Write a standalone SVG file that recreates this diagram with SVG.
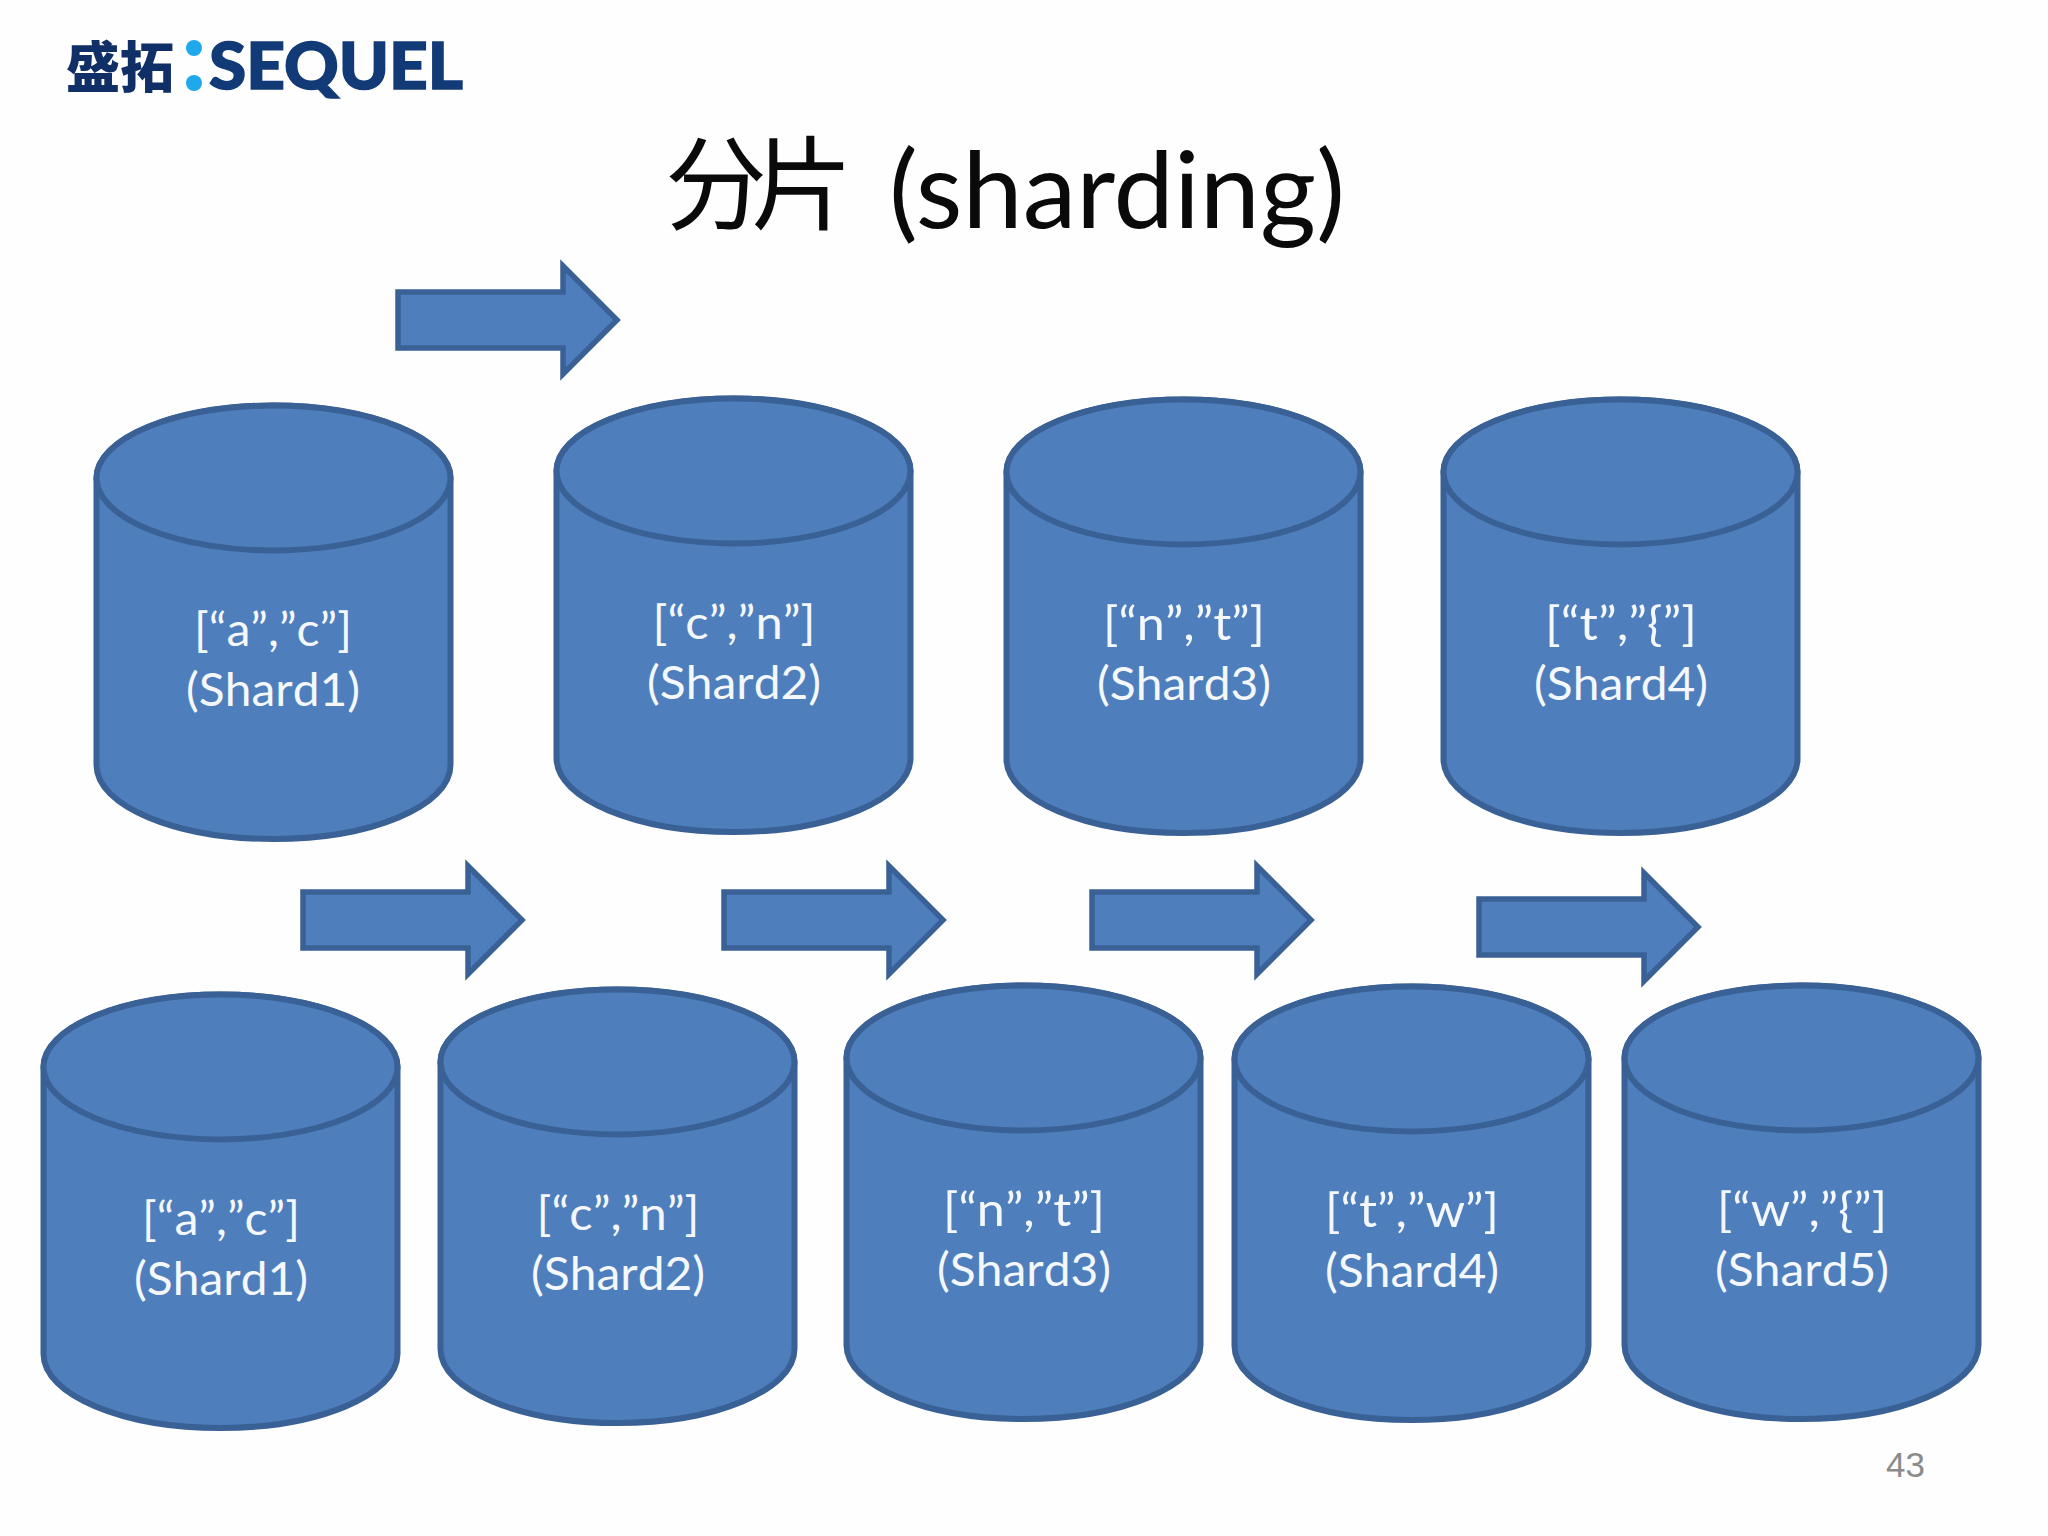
<svg xmlns="http://www.w3.org/2000/svg" width="2048" height="1536" viewBox="0 0 2048 1536">
<style>
.b{fill:#4f7ebd;stroke:#3a6195;stroke-width:6;stroke-linejoin:miter}
.a{fill:#4f7ebd;stroke:#3a6195;stroke-width:5.500;stroke-linejoin:miter}
.t{font-family:"Lato","Noto Sans CJK SC",sans-serif;font-size:47px;fill:#f4f8fc;text-anchor:middle;font-kerning:none}
.h{font-family:"Lato","Noto Sans CJK SC",sans-serif;fill:#0a0a0a}
</style>
<defs>
<g id="cyl">
<path class="b" d="M2.500 75C2.500 35 82 2.500 179.500 2.500S356.500 35 356.500 75V362C356.500 403 277 436 179.500 436S2.500 403 2.500 362Z"/>
<ellipse class="b" cx="179.500" cy="75" rx="177" ry="72.500"/>
</g>
<polygon id="arr" class="a" points="0,-28 165,-28 165,-54 219,0 165,54 165,28 0,28"/>
</defs>
<rect width="2048" height="1536" fill="#fefefe"/>
<g id="logo">
<text x="66" y="87" font-family="'Noto Sans CJK SC',sans-serif" font-weight="900" font-size="55" fill="#0f2f66" textLength="108" lengthAdjust="spacingAndGlyphs">盛拓</text>
<circle cx="194" cy="48" r="8" fill="#1fa9ea"/>
<circle cx="194" cy="83" r="8" fill="#1fa9ea"/>
<text x="209" y="89" font-family="'Lato',sans-serif" font-weight="900" font-size="65" fill="#113a77" stroke="#113a77" stroke-width="1.500" textLength="254" lengthAdjust="spacingAndGlyphs">SEQUEL</text>
</g>
<g id="title">
<text class="h" x="665" y="222" font-size="102" textLength="188" lengthAdjust="spacing">分片</text>
<text class="h" x="889" y="228" font-size="106" textLength="456" lengthAdjust="spacingAndGlyphs">(sharding)</text>
</g>
<g id="connectors">
<use href="#arr" x="398" y="320"/>
<use href="#arr" x="303" y="920"/>
<use href="#arr" x="724" y="920"/>
<use href="#arr" x="1092" y="920"/>
<use href="#arr" x="1479" y="927"/>
</g>
<g id="top1" transform="translate(94 403)"><use href="#cyl"/><text class="t" x="179" y="243" textLength="158" lengthAdjust="spacingAndGlyphs">[“a”,”c”]</text><text class="t" x="179" y="303" textLength="174" lengthAdjust="spacingAndGlyphs">(Shard1)</text></g>
<g id="top2" transform="translate(554 396)"><use href="#cyl"/><text class="t" x="180" y="243" textLength="163" lengthAdjust="spacingAndGlyphs">[“c”,”n”]</text><text class="t" x="180" y="303" textLength="174" lengthAdjust="spacingAndGlyphs">(Shard2)</text></g>
<g id="top3" transform="translate(1004 397)"><use href="#cyl"/><text class="t" x="180" y="243" textLength="162" lengthAdjust="spacingAndGlyphs">[“n”,”t”]</text><text class="t" x="180" y="303" textLength="174" lengthAdjust="spacingAndGlyphs">(Shard3)</text></g>
<g id="top4" transform="translate(1441 397)"><use href="#cyl"/><text class="t" x="180" y="243" textLength="152" lengthAdjust="spacingAndGlyphs">[“t”,”{”]</text><text class="t" x="180" y="303" textLength="174" lengthAdjust="spacingAndGlyphs">(Shard4)</text></g>
<g id="bot1" transform="translate(41 992)"><use href="#cyl"/><text class="t" x="180" y="243" textLength="158" lengthAdjust="spacingAndGlyphs">[“a”,”c”]</text><text class="t" x="180" y="303" textLength="174" lengthAdjust="spacingAndGlyphs">(Shard1)</text></g>
<g id="bot2" transform="translate(438 987)"><use href="#cyl"/><text class="t" x="180" y="243" textLength="163" lengthAdjust="spacingAndGlyphs">[“c”,”n”]</text><text class="t" x="180" y="303" textLength="174" lengthAdjust="spacingAndGlyphs">(Shard2)</text></g>
<g id="bot3" transform="translate(844 983)"><use href="#cyl"/><text class="t" x="180" y="243" textLength="162" lengthAdjust="spacingAndGlyphs">[“n”,”t”]</text><text class="t" x="180" y="303" textLength="174" lengthAdjust="spacingAndGlyphs">(Shard3)</text></g>
<g id="bot4" transform="translate(1232 984)"><use href="#cyl"/><text class="t" x="180" y="243" textLength="174" lengthAdjust="spacingAndGlyphs">[“t”,”w”]</text><text class="t" x="180" y="303" textLength="174" lengthAdjust="spacingAndGlyphs">(Shard4)</text></g>
<g id="bot5" transform="translate(1622 983)"><use href="#cyl"/><text class="t" x="180" y="243" textLength="170" lengthAdjust="spacingAndGlyphs">[“w”,”{”]</text><text class="t" x="180" y="303" textLength="174" lengthAdjust="spacingAndGlyphs">(Shard5)</text></g>
<text id="page" x="1886" y="1477" font-family="'Liberation Sans',sans-serif" font-size="35" fill="#8b8b8b">43</text>
</svg>
